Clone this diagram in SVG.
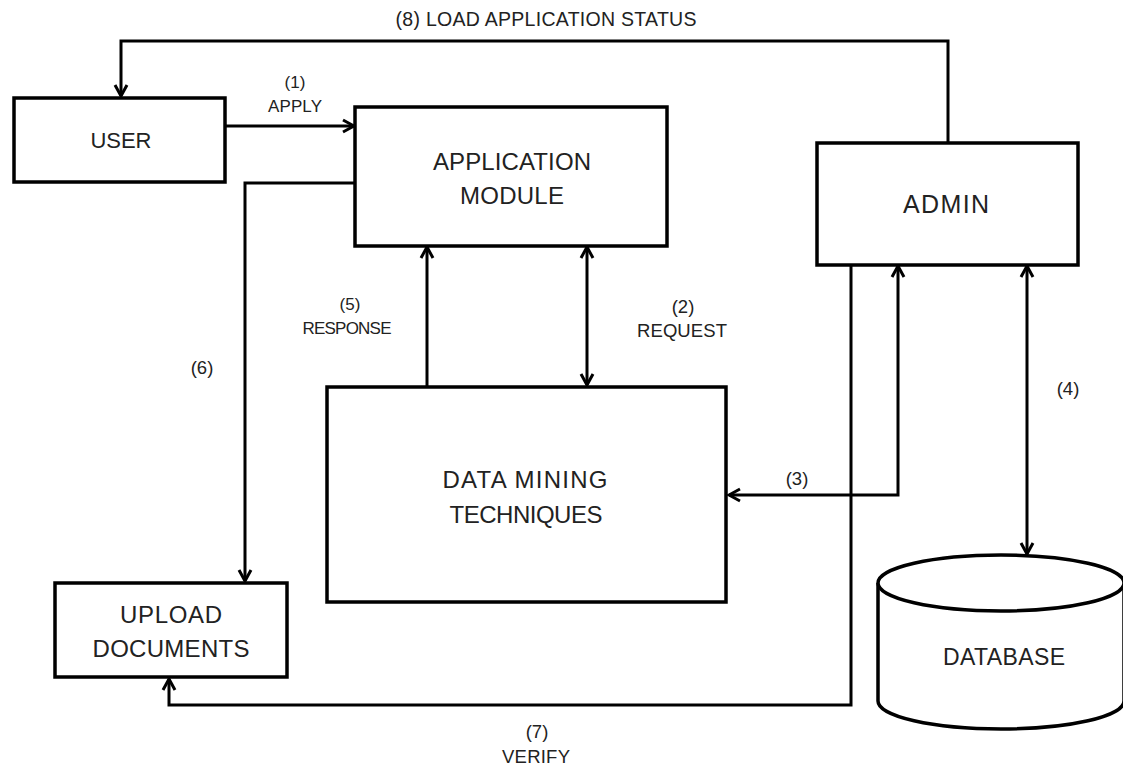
<svg xmlns="http://www.w3.org/2000/svg" width="1123" height="769" viewBox="0 0 1123 769">
<style>
.box{fill:#fff;stroke:#000;stroke-width:3.5}
.line{fill:none;stroke:#000;stroke-width:3}
.node{font-family:"Liberation Sans",Arial,sans-serif;font-size:24px;fill:#222;text-anchor:middle}
.lbl{font-family:"Liberation Sans",Arial,sans-serif;font-size:17px;fill:#222;text-anchor:middle}
.lg{font-size:18.5px}
</style>
<defs>
<marker id="arr" markerUnits="userSpaceOnUse" markerWidth="16" markerHeight="16" viewBox="0 0 16 16" refX="13" refY="8" orient="auto-start-reverse">
<path d="M2,2 L13,8 L2,14" fill="none" stroke="#000" stroke-width="3"/>
</marker>
</defs>
<rect width="1123" height="769" fill="#fff"/>
<g id="connectors">
<path class="line" d="M948,143 V41 H121 V96" marker-end="url(#arr)"/>
<path class="line" d="M226,126 H354" marker-end="url(#arr)"/>
<path class="line" d="M355,183 H245 V581" marker-end="url(#arr)"/>
<path class="line" d="M427,387 V247" marker-end="url(#arr)"/>
<path class="line" d="M587,247 V385" marker-start="url(#arr)" marker-end="url(#arr)"/>
<path class="line" d="M898,266 V495 H729" marker-start="url(#arr)" marker-end="url(#arr)"/>
<path class="line" d="M1027,266 V554" marker-start="url(#arr)" marker-end="url(#arr)"/>
<path class="line" d="M851,265 V705 H169 V679" marker-end="url(#arr)"/>
<text class="lbl" x="546" y="26" style="font-size:19.5px" textLength="301">(8) LOAD APPLICATION STATUS</text>
<text class="lbl" x="295" y="88">(1)</text>
<text class="lbl" x="295" y="112" textLength="54">APPLY</text>
<text class="lbl" x="350" y="310">(5)</text>
<text class="lbl" x="347" y="334" textLength="89">RESPONSE</text>
<text class="lbl lg" x="683" y="313">(2)</text>
<text class="lbl lg" x="682" y="337" textLength="90">REQUEST</text>
<text class="lbl lg" x="797" y="485">(3)</text>
<text class="lbl lg" x="1068" y="395">(4)</text>
<text class="lbl lg" x="202" y="374">(6)</text>
<text class="lbl lg" x="537" y="738">(7)</text>
<text class="lbl lg" x="536" y="763" textLength="68">VERIFY</text>
</g>
<g id="user">
<rect class="box" x="14" y="98" width="211" height="84"/>
<text class="node" x="121" y="148" style="font-size:22px" textLength="61">USER</text>
</g>
<g id="application-module">
<rect class="box" x="355" y="107" width="312" height="139"/>
<text class="node" x="512" y="170" textLength="158">APPLICATION</text>
<text class="node" x="512" y="204" textLength="104">MODULE</text>
</g>
<g id="admin">
<rect class="box" x="817" y="143" width="261" height="122"/>
<text class="node" x="946" y="213" style="font-size:25px" textLength="86">ADMIN</text>
</g>
<g id="data-mining">
<rect class="box" x="327" y="387" width="399" height="215"/>
<text class="node" x="525" y="488" textLength="165">DATA MINING</text>
<text class="node" x="526" y="523" textLength="153">TECHNIQUES</text>
</g>
<g id="upload-documents">
<rect class="box" x="55" y="583" width="232" height="94"/>
<text class="node" x="171" y="623" textLength="102">UPLOAD</text>
<text class="node" x="171" y="657" textLength="157">DOCUMENTS</text>
</g>
<g id="database">
<path class="box" d="M878,583 V701 A123,28 0 0 0 1124,701 V583"/>
<ellipse class="box" cx="1001" cy="583" rx="123" ry="28"/>
<text class="node" x="1004" y="665" style="font-size:23px" textLength="122">DATABASE</text>
</g>
</svg>
